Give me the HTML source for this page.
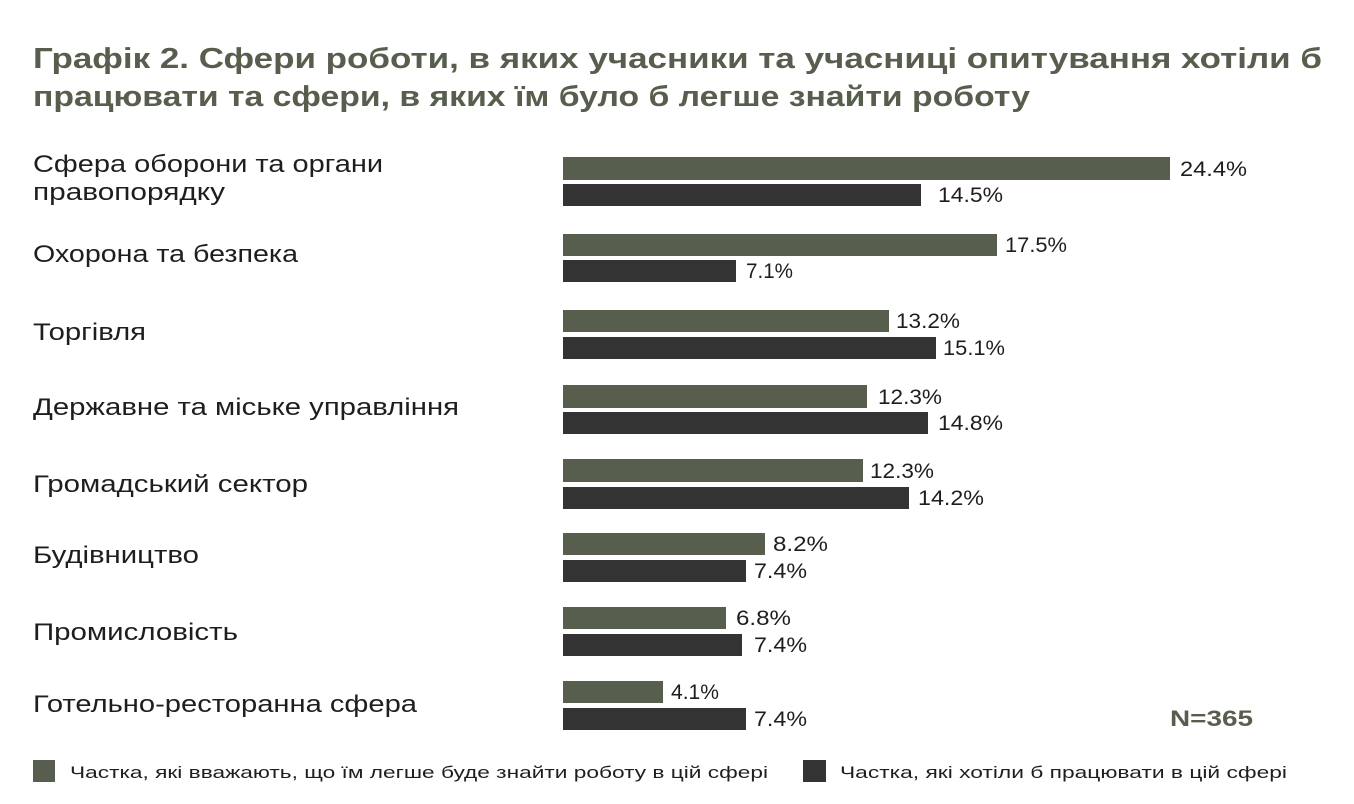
<!DOCTYPE html>
<html><head><meta charset="utf-8"><style>
html,body{margin:0;padding:0;background:#fff;}
svg{display:block;font-family:"Liberation Sans","DejaVu Sans",sans-serif;}
.t{font-size:29px;font-weight:bold;fill:#575e4d;}
.l{font-size:24px;fill:#1e1e1e;}
.v{font-size:21px;fill:#1e1e1e;}
.g{fill:#575e4d;}.d{fill:#333333;}
.lg{font-size:17px;fill:#1e1e1e;}
</style></head><body>
<svg width="1354" height="804" viewBox="0 0 1354 804">
<text class="t" x="33" y="68" textLength="1289" lengthAdjust="spacingAndGlyphs">Графік 2. Сфери роботи, в яких учасники та учасниці опитування хотіли б</text>
<text class="t" x="33" y="106" textLength="997" lengthAdjust="spacingAndGlyphs">працювати та сфери, в яких їм було б легше знайти роботу</text>

<text class="l" x="33" y="172" textLength="350" lengthAdjust="spacingAndGlyphs">Сфера оборони та органи</text>
<text class="l" x="33" y="200" textLength="192" lengthAdjust="spacingAndGlyphs">правопорядку</text>
<text class="l" x="33" y="262" textLength="265" lengthAdjust="spacingAndGlyphs">Охорона та безпека</text>
<text class="l" x="33" y="340" textLength="113" lengthAdjust="spacingAndGlyphs">Торгівля</text>
<text class="l" x="33" y="415" textLength="426" lengthAdjust="spacingAndGlyphs">Державне та міське управління</text>
<text class="l" x="33" y="492" textLength="275" lengthAdjust="spacingAndGlyphs">Громадський сектор</text>
<text class="l" x="33" y="563" textLength="166" lengthAdjust="spacingAndGlyphs">Будівництво</text>
<text class="l" x="33" y="640" textLength="205" lengthAdjust="spacingAndGlyphs">Промисловість</text>
<text class="l" x="33" y="712" textLength="384" lengthAdjust="spacingAndGlyphs">Готельно-ресторанна сфера</text>

<g class="v">
<rect class="g" x="563" y="157" width="607" height="23"/><text x="1180" y="176" textLength="67" lengthAdjust="spacingAndGlyphs">24.4%</text>
<rect class="d" x="563" y="184" width="358" height="22"/><text x="938" y="202" textLength="65" lengthAdjust="spacingAndGlyphs">14.5%</text>
<rect class="g" x="563" y="234" width="434" height="22"/><text x="1005" y="252" textLength="62" lengthAdjust="spacingAndGlyphs">17.5%</text>
<rect class="d" x="563" y="260" width="173" height="22"/><text x="746" y="278" textLength="47" lengthAdjust="spacingAndGlyphs">7.1%</text>
<rect class="g" x="563" y="310" width="326" height="22"/><text x="896" y="328" textLength="64" lengthAdjust="spacingAndGlyphs">13.2%</text>
<rect class="d" x="563" y="337" width="373" height="22"/><text x="943" y="355" textLength="62" lengthAdjust="spacingAndGlyphs">15.1%</text>
<rect class="g" x="563" y="385" width="304" height="23"/><text x="878" y="404" textLength="64" lengthAdjust="spacingAndGlyphs">12.3%</text>
<rect class="d" x="563" y="412" width="365" height="22"/><text x="938" y="430" textLength="65" lengthAdjust="spacingAndGlyphs">14.8%</text>
<rect class="g" x="563" y="459" width="300" height="23"/><text x="870" y="478" textLength="64" lengthAdjust="spacingAndGlyphs">12.3%</text>
<rect class="d" x="563" y="487" width="346" height="22"/><text x="918" y="505" textLength="66" lengthAdjust="spacingAndGlyphs">14.2%</text>
<rect class="g" x="563" y="533" width="202" height="22"/><text x="773" y="551" textLength="55" lengthAdjust="spacingAndGlyphs">8.2%</text>
<rect class="d" x="563" y="560" width="183" height="22"/><text x="754" y="578" textLength="53" lengthAdjust="spacingAndGlyphs">7.4%</text>
<rect class="g" x="563" y="607" width="163" height="22"/><text x="736" y="625" textLength="55" lengthAdjust="spacingAndGlyphs">6.8%</text>
<rect class="d" x="563" y="634" width="179" height="22"/><text x="754" y="652" textLength="53" lengthAdjust="spacingAndGlyphs">7.4%</text>
<rect class="g" x="563" y="681" width="100" height="22"/><text x="671" y="699" textLength="48" lengthAdjust="spacingAndGlyphs">4.1%</text>
<rect class="d" x="563" y="708" width="183" height="22"/><text x="754" y="726" textLength="53" lengthAdjust="spacingAndGlyphs">7.4%</text>
</g>

<text x="1170" y="726" textLength="83" lengthAdjust="spacingAndGlyphs" style="font-size:22px;font-weight:bold;fill:#575e4d">N=365</text>

<rect class="g" x="33" y="760" width="22" height="22"/>
<text class="lg" x="70" y="778" textLength="698" lengthAdjust="spacingAndGlyphs">Частка, які вважають, що їм легше буде знайти роботу в цій сфері</text>
<rect class="d" x="803" y="760" width="23" height="22"/>
<text class="lg" x="840" y="778" textLength="447" lengthAdjust="spacingAndGlyphs">Частка, які хотіли б працювати в цій сфері</text>
</svg>
</body></html>
